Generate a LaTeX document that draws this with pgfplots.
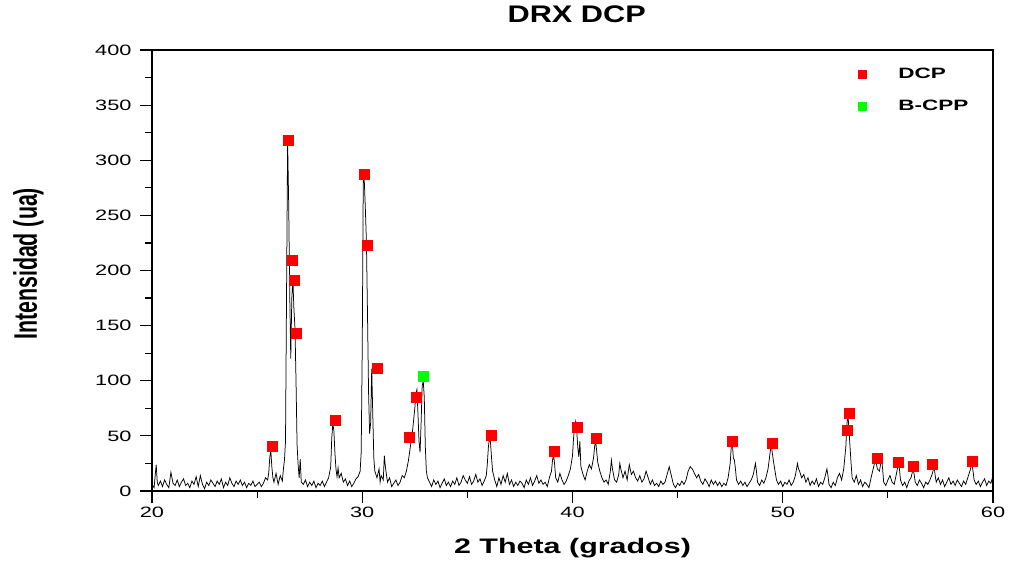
\documentclass[border=0pt]{standalone}
\usepackage{fontspec}
\setmainfont{Liberation Sans}
\usepackage{graphicx}
\usepackage{pgfplots}
\pgfplotsset{compat=1.18}
\newcommand{\tl}[1]{\scalebox{1.45}[1]{#1}}
\pgfplotstableread[row sep=\\]{
x y\\
20.0 6\\ 20.1 3\\ 20.2 24\\ 20.25 8\\ 20.3 5\\ 20.4 9\\ 20.5 4\\ 20.6 10\\ 20.7 6\\ 20.8 3\\ 20.9 17\\
21.0 7\\ 21.1 5\\ 21.2 10\\ 21.3 4\\ 21.4 8\\ 21.5 11\\ 21.6 5\\ 21.7 7\\ 21.8 3\\ 21.9 9\\
22.0 6\\ 22.1 13\\ 22.2 4\\ 22.3 14\\ 22.4 6\\ 22.5 2\\ 22.6 8\\ 22.7 5\\ 22.8 10\\ 22.9 7\\
23.0 4\\ 23.1 9\\ 23.2 6\\ 23.3 11\\ 23.4 3\\ 23.5 8\\ 23.6 5\\ 23.7 12\\ 23.8 7\\ 23.9 4\\
24.0 9\\ 24.1 6\\ 24.2 10\\ 24.3 5\\ 24.4 8\\ 24.5 3\\ 24.6 7\\ 24.7 5\\ 24.8 9\\ 24.9 4\\
25.0 6\\ 25.1 8\\ 25.2 4\\ 25.3 7\\ 25.4 12\\ 25.5 10\\ 25.55 16\\ 25.6 30\\ 25.65 37\\ 25.7 22\\ 25.75 12\\ 25.8 8\\ 25.9 16\\
26.0 6\\ 26.1 14\\ 26.2 9\\ 26.25 20\\ 26.3 28\\ 26.35 45\\ 26.4 180\\ 26.45 318\\ 26.5 262\\ 26.55 180\\ 26.6 120\\ 26.65 175\\ 26.7 192\\ 26.75 165\\ 26.8 148\\ 26.85 100\\ 26.9 42\\ 26.95 24\\
27.0 12\\ 27.05 29\\ 27.1 8\\ 27.2 6\\ 27.3 10\\ 27.4 4\\ 27.5 8\\ 27.6 5\\ 27.7 9\\ 27.8 3\\ 27.9 7\\
28.0 5\\ 28.1 9\\ 28.2 4\\ 28.3 8\\ 28.4 12\\ 28.5 22\\ 28.55 48\\ 28.6 61\\ 28.65 55\\ 28.7 35\\ 28.75 20\\ 28.8 13\\ 28.85 21\\ 28.9 12\\
29.0 16\\ 29.1 8\\ 29.2 11\\ 29.3 5\\ 29.4 9\\ 29.5 4\\ 29.6 7\\ 29.7 11\\ 29.8 13\\ 29.9 18\\ 29.95 35\\
30.0 130\\ 30.05 287\\ 30.1 280\\ 30.15 255\\ 30.2 225\\ 30.25 160\\ 30.3 90\\ 30.35 52\\ 30.4 62\\ 30.45 111\\ 30.5 70\\ 30.55 30\\ 30.6 18\\ 30.7 12\\ 30.8 20\\ 30.85 8\\ 30.9 14\\
31.0 10\\ 31.05 32\\ 31.1 22\\ 31.2 8\\ 31.3 12\\ 31.4 4\\ 31.5 7\\ 31.6 10\\ 31.7 5\\ 31.8 8\\ 31.9 14\\
32.0 12\\ 32.1 18\\ 32.2 28\\ 32.3 42\\ 32.4 56\\ 32.5 75\\ 32.55 88\\ 32.6 92\\ 32.65 70\\ 32.7 45\\ 32.75 35\\ 32.8 62\\ 32.85 95\\ 32.9 100\\ 32.95 85\\
33.0 40\\ 33.05 18\\ 33.1 12\\ 33.2 8\\ 33.3 4\\ 33.4 10\\ 33.5 6\\ 33.6 9\\ 33.7 3\\ 33.8 7\\ 33.9 11\\
34.0 5\\ 34.1 8\\ 34.2 4\\ 34.3 9\\ 34.4 6\\ 34.5 12\\ 34.6 5\\ 34.7 8\\ 34.8 14\\ 34.9 10\\
35.0 7\\ 35.1 13\\ 35.2 6\\ 35.3 9\\ 35.4 15\\ 35.5 8\\ 35.6 11\\ 35.7 5\\ 35.8 9\\ 35.9 14\\ 35.95 25\\
36.0 40\\ 36.05 48\\ 36.1 44\\ 36.15 30\\ 36.2 18\\ 36.3 10\\ 36.4 4\\ 36.5 12\\ 36.6 6\\ 36.7 14\\ 36.8 8\\ 36.9 16\\
37.0 6\\ 37.1 10\\ 37.2 4\\ 37.3 8\\ 37.4 5\\ 37.5 9\\ 37.6 7\\ 37.7 3\\ 37.8 10\\ 37.9 6\\
38.0 12\\ 38.1 5\\ 38.2 9\\ 38.3 14\\ 38.4 7\\ 38.5 10\\ 38.6 6\\ 38.7 8\\ 38.8 4\\ 38.9 12\\
39.0 18\\ 39.05 28\\ 39.1 33\\ 39.15 24\\ 39.2 12\\ 39.3 8\\ 39.4 16\\ 39.5 10\\ 39.6 6\\ 39.7 9\\ 39.8 14\\ 39.9 20\\
40.0 32\\ 40.05 48\\ 40.1 58\\ 40.15 63\\ 40.2 55\\ 40.25 40\\ 40.3 31\\ 40.35 45\\ 40.4 22\\ 40.5 15\\ 40.6 10\\ 40.7 18\\ 40.8 24\\ 40.9 20\\
41.0 30\\ 41.05 40\\ 41.1 46\\ 41.15 36\\ 41.2 26\\ 41.3 18\\ 41.4 12\\ 41.5 8\\ 41.6 10\\ 41.7 6\\ 41.8 18\\ 41.85 28\\ 41.9 20\\
42.0 10\\ 42.1 8\\ 42.2 15\\ 42.25 25\\ 42.3 20\\ 42.4 12\\ 42.5 18\\ 42.6 10\\ 42.7 24\\ 42.8 15\\ 42.9 18\\
43.0 12\\ 43.1 9\\ 43.2 14\\ 43.3 8\\ 43.4 11\\ 43.5 18\\ 43.6 12\\ 43.7 6\\ 43.8 10\\ 43.9 5\\
44.0 7\\ 44.1 4\\ 44.2 9\\ 44.3 6\\ 44.4 8\\ 44.5 15\\ 44.6 22\\ 44.7 14\\ 44.8 6\\ 44.9 3\\
45.0 7\\ 45.1 5\\ 45.2 9\\ 45.3 6\\ 45.4 10\\ 45.5 18\\ 45.6 22\\ 45.7 20\\ 45.8 16\\ 45.9 12\\
46.0 15\\ 46.1 9\\ 46.2 6\\ 46.3 11\\ 46.4 8\\ 46.5 4\\ 46.6 10\\ 46.7 6\\ 46.8 9\\ 46.9 5\\
47.0 8\\ 47.1 4\\ 47.2 7\\ 47.3 5\\ 47.4 12\\ 47.5 25\\ 47.55 40\\ 47.6 44\\ 47.65 30\\ 47.7 28\\ 47.75 20\\ 47.8 10\\ 47.9 6\\
48.0 9\\ 48.1 5\\ 48.2 8\\ 48.3 4\\ 48.4 7\\ 48.5 10\\ 48.6 15\\ 48.7 25\\ 48.75 18\\ 48.8 8\\ 48.9 5\\
49.0 10\\ 49.1 7\\ 49.2 12\\ 49.3 20\\ 49.4 35\\ 49.45 42\\ 49.5 35\\ 49.55 28\\ 49.6 22\\ 49.7 10\\ 49.8 6\\ 49.9 9\\
50.0 4\\ 50.1 8\\ 50.2 6\\ 50.3 10\\ 50.4 5\\ 50.5 8\\ 50.6 14\\ 50.7 25\\ 50.75 20\\ 50.8 18\\ 50.9 12\\
51.0 15\\ 51.1 8\\ 51.2 12\\ 51.3 5\\ 51.4 9\\ 51.5 6\\ 51.6 11\\ 51.7 4\\ 51.8 8\\ 51.9 6\\
52.0 12\\ 52.1 20\\ 52.15 14\\ 52.2 6\\ 52.3 3\\ 52.4 8\\ 52.5 5\\ 52.6 12\\ 52.7 16\\ 52.8 10\\ 52.9 20\\
53.0 40\\ 53.05 60\\ 53.1 70\\ 53.15 55\\ 53.2 40\\ 53.25 25\\ 53.3 12\\ 53.4 8\\ 53.5 14\\ 53.6 6\\ 53.7 10\\ 53.8 4\\ 53.9 8\\
54.0 6\\ 54.1 3\\ 54.2 12\\ 54.3 20\\ 54.4 28\\ 54.45 25\\ 54.5 20\\ 54.6 18\\ 54.7 30\\ 54.75 20\\ 54.8 8\\ 54.9 5\\
55.0 10\\ 55.1 14\\ 55.2 8\\ 55.3 6\\ 55.4 15\\ 55.5 25\\ 55.55 20\\ 55.6 10\\ 55.7 5\\ 55.8 8\\ 55.9 3\\
56.0 9\\ 56.1 12\\ 56.2 20\\ 56.25 15\\ 56.3 8\\ 56.4 5\\ 56.5 10\\ 56.6 7\\ 56.7 3\\ 56.8 8\\ 56.9 6\\
57.0 10\\ 57.1 15\\ 57.2 22\\ 57.25 14\\ 57.3 8\\ 57.4 12\\ 57.5 6\\ 57.6 10\\ 57.7 4\\ 57.8 8\\ 57.9 12\\
58.0 6\\ 58.1 9\\ 58.2 5\\ 58.3 10\\ 58.4 7\\ 58.5 4\\ 58.6 9\\ 58.7 6\\ 58.8 12\\ 58.9 18\\
59.0 25\\ 59.05 18\\ 59.1 10\\ 59.2 6\\ 59.3 9\\ 59.4 4\\ 59.5 8\\ 59.6 11\\ 59.7 5\\ 59.8 9\\ 59.9 7\\ 60.0 14\\
}\drx
\begin{document}
\begin{tikzpicture}
\begin{axis}[name=ax, scale only axis, width=841pt, height=441pt,
  xmin=20, xmax=60, ymin=0, ymax=400,
  xtick={20,30,40,50,60},
  xticklabels={\tl{20},\tl{30},\tl{40},\tl{50},\tl{60}},
  ytick={0,50,100,150,200,250,300,350,400},
  yticklabels={\tl{0},\tl{50},\tl{100},\tl{150},\tl{200},\tl{250},\tl{300},\tl{350},\tl{400}},
  minor x tick num=1, minor y tick num=1,
  tick align=outside, tick pos=left,
  major tick length=12pt, minor tick length=7pt,
  major tick style={black, line width=1.2pt},
  minor tick style={black, line width=1.2pt},
  axis line style={line width=1.6pt},
  ticklabel style={font=\fontsize{15}{17}\selectfont},
  yticklabel style={xshift=-5pt},
  title={\scalebox{1.28}[1]{DRX DCP}},
  title style={font=\bfseries\fontsize{24}{26}\selectfont, at={(axis description cs:0.505,1)}, anchor=base, yshift=21pt},
  xlabel={\scalebox{1.45}[1]{2 Theta (grados)}},
  xlabel style={font=\bfseries\fontsize{21}{24}\selectfont, at={(axis description cs:0.5,0)}, anchor=base, yshift=-62pt},
  ylabel={\scalebox{0.95}[1.45]{Intensidad (ua)}},
  ylabel style={font=\bfseries\fontsize{22.5}{24}\selectfont, at={(axis description cs:-0.137,0.515)}, anchor=base, rotate=0},
  legend style={at={(axis description cs:0.836,0.968)}, anchor=north west, draw=none, fill=none,
    font=\bfseries\fontsize{15}{17}\selectfont, row sep=16pt, column sep=30pt},
  legend cell align=left,
  legend image post style={mark size=4pt},
]
\addplot[black, line width=0.75pt, forget plot] table[x=x, y=y] {\drx};
\addplot[only marks, mark=square*, mark size=5pt, color=red] coordinates {
(25.72,41) (26.50,318) (26.67,209.5) (26.77,191) (26.88,143) (28.73,64)
(30.10,287) (30.24,223) (30.70,111) (32.22,49) (32.57,85.5)
(36.15,51) (39.14,36.3) (40.21,58) (41.14,48) (47.61,45) (49.48,43.8)
(53.08,55.3) (53.14,70.7) (54.49,29.3) (55.50,26.3) (56.20,22.4) (57.12,23.9) (58.99,26.6)};
\addlegendentry{\scalebox{1.5}[1]{DCP}}
\addplot[only marks, mark=square*, mark size=5pt, color=green] coordinates {(32.90,103.7)};
\addlegendentry{\scalebox{1.5}[1]{B-CPP}}
\end{axis}
\path ([shift={(-152pt,-71pt)}]ax.south west) rectangle ([shift={(18pt,50pt)}]ax.north east);
\end{tikzpicture}
\end{document}
